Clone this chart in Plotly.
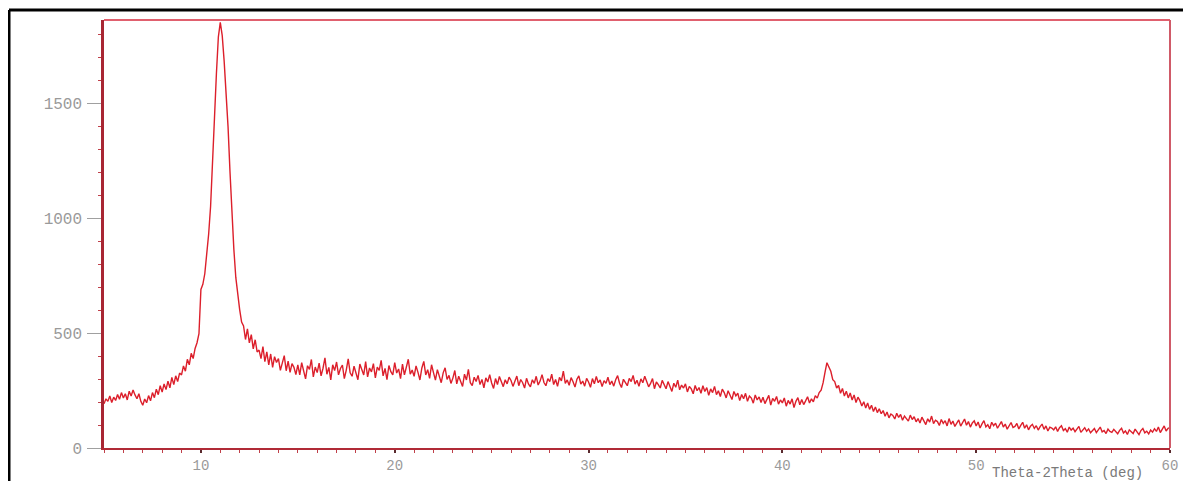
import plotly.graph_objects as go

# 2theta grid: rows of 0.1-degree samples starting at each whole degree
row_start_deg = list(range(5, 61))
step_deg = 0.1

counts_rows = [
    [192, 214, 203, 226, 198, 221, 207, 233, 212, 241],   # 5
    [218, 236, 209, 247, 226, 252, 231, 214, 236, 203],   # 6
    [186, 213, 197, 228, 205, 241, 219, 256, 232, 271],   # 7
    [243, 279, 254, 291, 262, 307, 276, 314, 289, 326],   # 8
    [318, 357, 334, 386, 362, 412, 389, 433, 458, 497],   # 9
    [690, 712, 758, 842, 931, 1052, 1218, 1436, 1628, 1788],  # 10
    [1852, 1794, 1682, 1556, 1398, 1203, 1012, 864, 742, 664],  # 11
    [602, 548, 531, 472, 518, 457, 493, 431, 471, 418],   # 12
    [426, 389, 441, 376, 418, 362, 409, 351, 397, 372],   # 13
    [389, 338, 371, 402, 336, 378, 329, 367, 351, 319],   # 14
    [362, 318, 371, 336, 301, 358, 342, 385, 309, 352],   # 15
    [328, 369, 314, 347, 392, 321, 351, 296, 362, 337],   # 16
    [374, 318, 346, 361, 302, 339, 388, 327, 312, 356],   # 17
    [331, 297, 365, 342, 318, 376, 309, 348, 331, 367],   # 18
    [305, 352, 338, 381, 314, 346, 297, 359, 332, 318],   # 19
    [371, 326, 344, 302, 365, 318, 352, 386, 321, 339],   # 20
    [312, 357, 329, 296, 348, 377, 318, 341, 303, 362],   # 21
    [328, 295, 341, 312, 284, 327, 349, 298, 316, 281],   # 22
    [304, 337, 279, 312, 291, 268, 321, 296, 342, 284],   # 23
    [271, 308, 289, 316, 276, 298, 262, 305, 287, 319],   # 24
    [283, 259, 302, 276, 311, 288, 267, 297, 279, 308],   # 25
    [294, 268, 287, 313, 271, 298, 284, 261, 303, 279],   # 26
    [266, 297, 281, 312, 274, 291, 319, 285, 271, 302],   # 27
    [289, 321, 276, 298, 268, 307, 292, 334, 281, 296],   # 28
    [273, 306, 288, 265, 299, 314, 278, 291, 269, 303],   # 29
    [287, 264, 302, 279, 311, 284, 296, 267, 293, 281],   # 30
    [308, 276, 291, 269, 297, 315, 282, 263, 299, 286],   # 31
    [271, 303, 289, 316, 278, 295, 268, 301, 284, 312],   # 32
    [293, 266, 281, 302, 258, 287, 276, 261, 294, 272],   # 33
    [258, 289, 271, 246, 282, 264, 295, 253, 274, 261],   # 34
    [279, 244, 268, 257, 236, 272, 249, 263, 238, 271],   # 35
    [246, 263, 229, 257, 241, 268, 232, 249, 224, 256],   # 36
    [241, 218, 249, 232, 211, 246, 227, 238, 206, 233],   # 37
    [214, 238, 203, 226, 217, 195, 231, 209, 222, 198],   # 38
    [221, 193, 212, 229, 187, 216, 203, 224, 191, 209],   # 39
    [196, 218, 182, 207, 191, 214, 176, 203, 219, 188],   # 40
    [211, 189, 205, 223, 196, 214, 201, 228, 217, 241],   # 41
    [252, 283, 329, 371, 352, 334, 297, 289, 261, 272],   # 42
    [238, 259, 226, 247, 218, 239, 209, 231, 198, 221],   # 43
    [206, 183, 201, 174, 196, 168, 186, 159, 178, 154],   # 44
    [171, 149, 163, 138, 157, 131, 148, 142, 126, 151],   # 45
    [133, 146, 121, 139, 128, 117, 143, 124, 136, 114],   # 46
    [128, 109, 134, 118, 102, 127, 113, 139, 106, 121],   # 47
    [115, 98, 124, 107, 119, 96, 128, 103, 117, 94],      # 48
    [111, 122, 95, 108, 126, 99, 115, 91, 109, 118],      # 49
    [96, 113, 87, 105, 119, 92, 101, 84, 112, 97],        # 50
    [108, 86, 99, 115, 91, 104, 82, 97, 111, 89],         # 51
    [94, 107, 83, 98, 112, 86, 101, 79, 95, 103],         # 52
    [85, 97, 78, 93, 104, 81, 96, 74, 91, 87],            # 53
    [79, 92, 72, 88, 97, 76, 84, 69, 91, 78],             # 54
    [86, 71, 81, 94, 68, 79, 88, 73, 83, 66],             # 55
    [74, 85, 67, 79, 91, 70, 76, 63, 82, 72],             # 56
    [68, 81, 73, 62, 77, 86, 65, 74, 59, 79],             # 57
    [71, 63, 82, 69, 58, 76, 85, 66, 73, 61],             # 58
    [78, 69, 84, 72, 91, 67, 80, 96, 74, 86],             # 59
    [89],                                                 # 60
]

x_tick_vals = [10, 20, 30, 40, 50, 60]
x_tick_text = ["10", "20", "30", "40", "50", "60"]
y_tick_vals = [0, 500, 1000, 1500]
y_tick_text = ["0", "500", "1000", "1500"]
x_title = "Theta-2Theta (deg)"

two_theta = []
counts = []
for d, row in zip(row_start_deg, counts_rows):
    for i, v in enumerate(row):
        two_theta.append(round(d + i * step_deg, 1))
        counts.append(v)

mono = "Liberation Mono, DejaVu Sans Mono, monospace"
label_color = "#9a9a9a"

# the page body adds an 8px offset; size the figure so the plot area lands
# where the reference has it (x 104..1170, y 20..448 in window pixels)
OFF = 8
fig_w, fig_h = 1191 - OFF, 481 - OFF
pl, pt = 104 - OFF, 20 - OFF
pw, ph = 1066, 428

fig = go.Figure()
fig.add_trace(go.Scatter(
    x=two_theta, y=counts, mode="lines",
    line=dict(color="#dc1f2b", width=1.4),
    hoverinfo="skip", showlegend=False,
))

fig.update_layout(
    width=fig_w, height=fig_h,
    margin=dict(l=pl, r=fig_w - pl - pw, t=pt, b=fig_h - pt - ph, pad=0),
    paper_bgcolor="white", plot_bgcolor="white",
    showlegend=False,
)

fig.update_xaxes(
    range=[5, 60], showgrid=False, zeroline=False, automargin=False,
    showline=True, linecolor="#b02a36", linewidth=2,
    tickmode="array", tickvals=x_tick_vals, ticktext=x_tick_text,
    ticks="outside", ticklen=3, tickwidth=2, tickcolor="#5a2a2e",
    tickfont=dict(family=mono, size=14, color=label_color),
    minor=dict(dtick=1, ticks="outside", ticklen=3, tickcolor="#c0404a", tickwidth=1),
)
fig.update_yaxes(
    range=[0, 1862], showgrid=False, zeroline=False, automargin=False,
    showline=True, linecolor="#a82633", linewidth=2.5,
    tickmode="array", tickvals=y_tick_vals, ticktext=y_tick_text,
    ticks="outside", ticklen=14, tickwidth=1, tickcolor="#a0a0a0",
    ticklabelstandoff=2,
    tickfont=dict(family=mono, size=16, color=label_color),
    minor=dict(dtick=100, ticks="outside", ticklen=3, tickcolor="#c0404a", tickwidth=1),
)

# frame top / right (lighter red)
fig.add_shape(type="line", xref="paper", yref="paper", x0=0, x1=1, y0=1, y1=1,
              line=dict(color="#e0606e", width=2))
fig.add_shape(type="line", xref="paper", yref="paper", x0=1, x1=1, y0=0, y1=1,
              line=dict(color="#d05a68", width=2))

# black outer border of the figure image (top and left), window px (9, 10)
bx = (9 - 104) / pw
by = (448 - 10) / ph
fig.add_shape(type="line", xref="paper", yref="paper",
              x0=bx, x1=1.2, y0=by, y1=by, line=dict(color="black", width=3))
fig.add_shape(type="line", xref="paper", yref="paper",
              x0=bx, x1=bx, y0=by, y1=-0.2, line=dict(color="black", width=3))

fig.add_annotation(
    text=x_title, xref="paper", yref="paper",
    x=(990 - 104) / pw, y=(448 - 473) / ph,
    xanchor="left", yanchor="middle", showarrow=False,
    font=dict(family=mono, size=14, color="#7a7a7a"),
)

fig.write_html("out.html")
